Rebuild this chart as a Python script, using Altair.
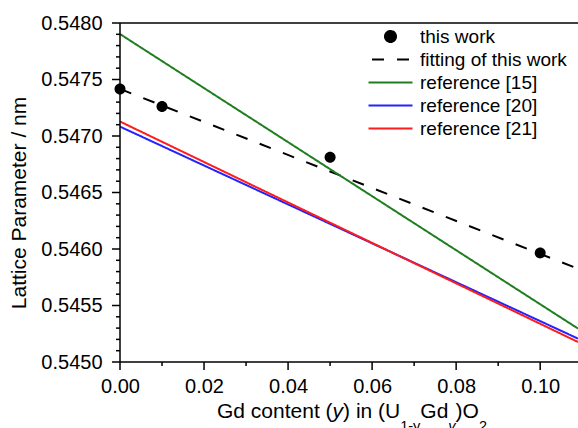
import altair as alt
import pandas as pd

# Measured lattice parameters of (U,Gd)O2
gd_content = [0.00, 0.01, 0.05, 0.10]
lattice = [0.547416, 0.547262, 0.546811, 0.545965]

# Straight lines, given by their end points at y = 0 and y = 0.109
line_x = [0.0, 0.109]
fit_line = [0.547416, 0.545825]
ref15_line = [0.547902, 0.545296]
ref20_line = [0.547083, 0.545207]
ref21_line = [0.547128, 0.545177]

series_order = ["this work", "fitting of this work", "reference [15]",
                "reference [20]", "reference [21]"]
series_colors = ["#000000", "#000000", "#1f7f1f", "#2323ff", "#ff1c1c"]
series_dash = [[1, 0], [12, 13], [1, 0], [1, 0], [1, 0]]

# legend / point symbols as custom paths (scaled by sqrt(size)/2)
dot_path = ("M1,0C1,0.552,0.552,1,0,1C-0.552,1,-1,0.552,-1,0"
            "C-1,-0.552,-0.552,-1,0,-1C0.552,-1,1,-0.552,1,0Z")
dash_path = "M-3.36,0H3.36"
line_path = "M-4,0H4"
series_shapes = [dot_path, dash_path, line_path, line_path, line_path]

# tick positions
x_major = [0.00, 0.02, 0.04, 0.06, 0.08, 0.10]
x_minor = [0.01, 0.03, 0.05, 0.07, 0.09]
y_major = [0.5450, 0.5455, 0.5460, 0.5465, 0.5470, 0.5475, 0.5480]
y_minor = [round(0.5450 + i * 0.0001, 4) for i in range(31) if i % 5 != 0]

points_df = pd.DataFrame({"y": gd_content, "a": lattice, "series": "this work"})
lines_df = pd.concat([
    pd.DataFrame({"y": line_x, "a": vals, "series": name})
    for name, vals in [("fitting of this work", fit_line),
                       ("reference [15]", ref15_line),
                       ("reference [20]", ref20_line),
                       ("reference [21]", ref21_line)]
], ignore_index=True)
one_row = pd.DataFrame({"k": [0]})

W, H = 458, 339
FONT = "Liberation Sans"
AXIS_W = 1.5

x_scale = alt.Scale(domain=[0, 0.109], nice=False, zero=False)
y_scale = alt.Scale(domain=[0.5450, 0.5480], nice=False, zero=False)

color_scale = alt.Scale(domain=series_order, range=series_colors)
dash_scale = alt.Scale(domain=series_order, range=series_dash)
shape_scale = alt.Scale(domain=series_order, range=series_shapes)

# axes carry the labels; the axis lines and ticks are drawn as rules below
x_axis = alt.Axis(values=x_major, format=".2f", orient="bottom", title=None,
                  grid=False, domain=False, ticks=False, labelFont=FONT,
                  labelColor="black", labelFontSize=20, labelPadding=14,
                  labelOverlap=False, labelFlush=False)
y_axis = alt.Axis(values=y_major, format=".4f", orient="left", title=None,
                  grid=False, domain=False, ticks=False, labelFont=FONT,
                  labelColor="black", labelFontSize=20, labelPadding=18,
                  labelOverlap=False, labelFlush=False)

legend = alt.Legend(
    title=None, orient="none", legendX=261, legendY=4,
    labelFont=FONT, labelFontSize=19, labelColor="black",
    symbolSize=121, symbolStrokeWidth=2, labelOffset=20,
    rowPadding=3, padding=0,
)

lines = alt.Chart(lines_df).mark_line(strokeWidth=2, clip=True).encode(
    x=alt.X("y:Q", scale=x_scale, axis=x_axis),
    y=alt.Y("a:Q", scale=y_scale, axis=y_axis),
    color=alt.Color("series:N", scale=color_scale, legend=legend),
    strokeDash=alt.StrokeDash("series:N", scale=dash_scale, legend=legend),
    detail="series:N",
)

points = alt.Chart(points_df).mark_point(filled=True, size=121, opacity=1).encode(
    x=alt.X("y:Q", scale=x_scale, axis=x_axis),
    y=alt.Y("a:Q", scale=y_scale, axis=y_axis),
    color=alt.Color("series:N", scale=color_scale, legend=legend),
    shape=alt.Shape("series:N", scale=shape_scale, legend=legend),
)


def x_ticks(values, length):
    return alt.Chart(pd.DataFrame({"t": values})).mark_rule(
        color="black", strokeWidth=AXIS_W
    ).encode(x=alt.X("t:Q", scale=x_scale, axis=x_axis),
             y=alt.value(H), y2=alt.value(H + length))


def y_ticks(values, length):
    return alt.Chart(pd.DataFrame({"t": values})).mark_rule(
        color="black", strokeWidth=AXIS_W
    ).encode(y=alt.Y("t:Q", scale=y_scale, axis=y_axis),
             x=alt.value(-length), x2=alt.value(0))


frame = alt.layer(
    # left and bottom axis lines, plus the top frame line
    alt.Chart(one_row).mark_rule(color="black", strokeWidth=AXIS_W).encode(
        x=alt.value(0), y=alt.value(0), y2=alt.value(H)),
    alt.Chart(one_row).mark_rule(color="black", strokeWidth=AXIS_W).encode(
        x=alt.value(0), x2=alt.value(W), y=alt.value(H)),
    alt.Chart(one_row).mark_rule(color="black", strokeWidth=AXIS_W).encode(
        x=alt.value(0), x2=alt.value(W), y=alt.value(0)),
    x_ticks(x_major, 8), x_ticks(x_minor, 4),
    y_ticks(y_major, 8), y_ticks(y_minor, 4),
)

# y axis title
y_title = alt.Chart(one_row).mark_text(
    text="Lattice Parameter / nm", angle=270, font=FONT, fontSize=21,
    align="center", baseline="middle", color="black",
).encode(x=alt.value(-100), y=alt.value(180))

# x axis title with italic symbol and subscripts
char_w = {"G": 778, "d": 556, " ": 278, "c": 500, "o": 556, "n": 556, "t": 278,
          "e": 556, "(": 333, "y": 500, ")": 333, "i": 222, "U": 722, "1": 556,
          "-": 333, "O": 778, "2": 556}
main_size, sub_size = 21, 14.5
parts = [("Gd content (", "normal", False), ("y", "italic", False),
         (") in (U", "normal", False), ("1-y", "normal", True),
         ("Gd", "normal", False), ("y", "italic", True),
         (")O", "normal", False), ("2", "normal", True)]


def text_width(s, size):
    return sum(char_w[c] for c in s) * size / 1000.0


total = sum(text_width(s, sub_size if sub else main_size) for s, _, sub in parts)
cursor = 352 - 120 - total / 2
base_y = 418 - 23
title_layers = []
for s, style, sub in parts:
    size = sub_size if sub else main_size
    title_layers.append(
        alt.Chart(one_row).mark_text(
            text=s, font=FONT, fontSize=size, fontStyle=style, color="black",
            align="left", baseline="alphabetic",
        ).encode(x=alt.value(cursor), y=alt.value(base_y + (13 if sub else 0)))
    )
    cursor += text_width(s, size)

chart = alt.layer(lines, points, frame, y_title, *title_layers).properties(
    width=W, height=H,
    background="white",
    autosize=alt.AutoSizeParams(type="none"),
    padding={"left": 120, "top": 23, "right": 0, "bottom": 66},
).configure_view(stroke=None)

chart.save("out.html", embed_options={"renderer": "svg", "actions": False})
